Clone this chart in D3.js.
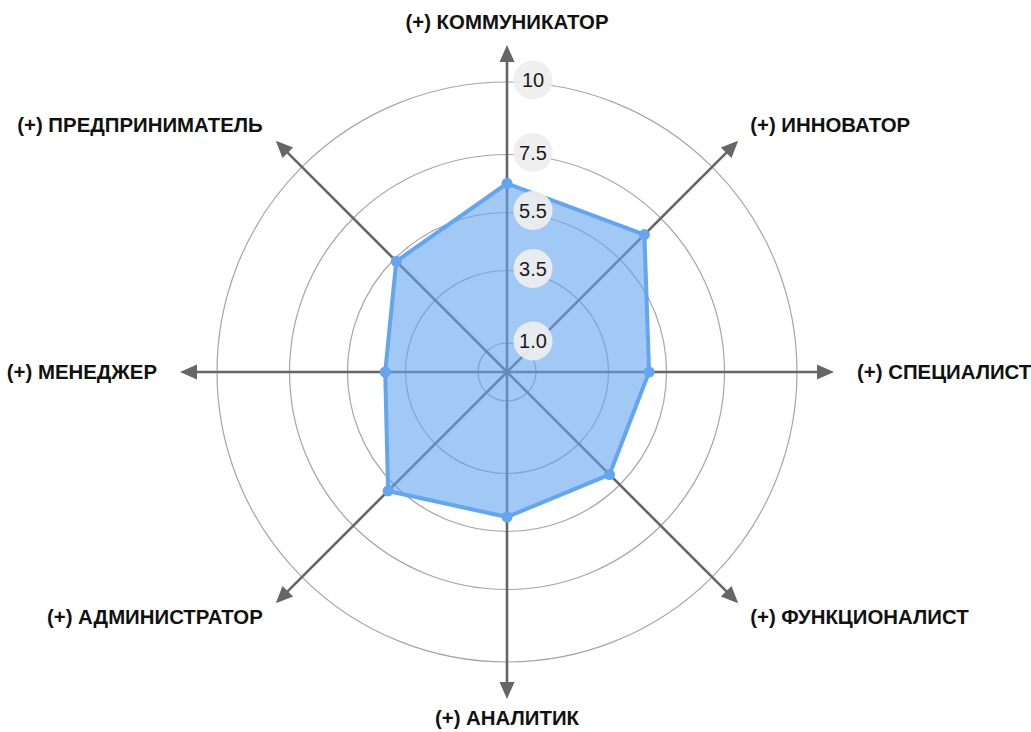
<!DOCTYPE html>
<html><head><meta charset="utf-8">
<script src="https://cdn.jsdelivr.net/npm/d3@7"></script>
<style>body{margin:0;background:#fff;}svg{display:block;font-family:"Liberation Sans",Arial,sans-serif;}</style>
</head><body>
<svg id="chart" width="1031" height="732"></svg>
<script>
const categories = ["(+) КОММУНИКАТОР","(+) ИННОВАТОР","(+) СПЕЦИАЛИСТ","(+) ФУНКЦИОНАЛИСТ","(+) АНАЛИТИК","(+) АДМИНИСТРАТОР","(+) МЕНЕДЖЕР","(+) ПРЕДПРИНИМАТЕЛЬ"];
const values = [6.5, 6.7, 4.9, 5.0, 5.0, 5.8, 4.2, 5.4];
const tickValues = [1.0, 3.5, 5.5, 7.5, 10];
const tickLabels = ["1.0","3.5","5.5","7.5","10"];

const svg = d3.select("#chart");
const cx = 507, cy = 372;
const r = d3.scaleLinear().domain([0,10]).range([0,290]);
const angle = d3.scaleLinear().domain([0, categories.length]).range([0, 2*Math.PI]);
const pt = (i, rad) => [cx + rad*Math.sin(angle(i)), cy - rad*Math.cos(angle(i))];
const g = svg.append("g");

// rings
g.selectAll("circle.ring").data(tickValues).join("circle")
 .attr("cx",cx).attr("cy",cy).attr("r",d=>r(d))
 .attr("fill","none").attr("stroke","#a6a6a6").attr("stroke-width",1.2);

// axes
const tipR = 327, arrowLen = 17, halfW = 7.5;
categories.forEach((c,i)=>{
  const a = angle(i);
  const [x2,y2] = pt(i, tipR-arrowLen+1);
  g.append("line").attr("x1",cx).attr("y1",cy).attr("x2",x2).attr("y2",y2)
   .attr("stroke","#666").attr("stroke-width",2.6);
  const tip = pt(i, tipR), base = pt(i, tipR-arrowLen);
  const px = Math.cos(a), py = Math.sin(a);
  g.append("path").attr("d", `M${tip[0]},${tip[1]}L${base[0]+px*halfW},${base[1]+py*halfW}L${base[0]-px*halfW},${base[1]-py*halfW}Z`)
   .attr("fill","#666");
});

// polygon
const line = d3.lineRadial().angle((d,i)=>angle(i)).radius(d=>r(d)).curve(d3.curveLinearClosed);
g.append("path").datum(values).attr("transform",`translate(${cx},${cy})`)
 .attr("d",line).attr("fill","rgb(100,165,240)").attr("fill-opacity",0.6)
 .attr("stroke","#64a5f0").attr("stroke-width",4).attr("stroke-linejoin","round");
g.selectAll("circle.dot").data(values).join("circle")
 .attr("cx",(d,i)=>pt(i,r(d))[0]).attr("cy",(d,i)=>pt(i,r(d))[1])
 .attr("r",5.5).attr("fill","#64a5f0");

// tick badges
const tg = g.selectAll("g.tick").data(tickValues).join("g")
 .attr("transform",(d)=>`translate(${cx+26},${cy - r(d) - 2})`);
tg.append("circle").attr("r",19.5).attr("fill","#eeeeee").attr("fill-opacity",0.92);
tg.append("text").text((d,i)=>tickLabels[i]).attr("text-anchor","middle").attr("dy","0.36em")
 .attr("font-size",20).attr("fill","#1a1a1a");

// category labels
categories.forEach((c,i)=>{
  const a = angle(i);
  const sx = Math.sin(a), sy = -Math.cos(a);
  let x, y, anchor;
  if (Math.abs(sx) < 0.01) { x = cx; y = cy + sy*(sy<0?350:346); anchor = "middle"; }
  else if (Math.abs(sy) < 0.01) { x = cx + sx*350; y = cy; anchor = sx>0?"start":"end"; }
  else {
    const tip = pt(i, tipR);
    x = tip[0] + (sx>0?12:-13); y = cy + (sy>0?245:-247); anchor = sx>0?"start":"end";
  }
  g.append("text").text(c).attr("x",x).attr("y",y).attr("text-anchor",anchor)
   .attr("dy","0.36em").attr("font-size",20.4).attr("font-weight","bold").attr("fill","#111");
});
</script>
</body></html>
